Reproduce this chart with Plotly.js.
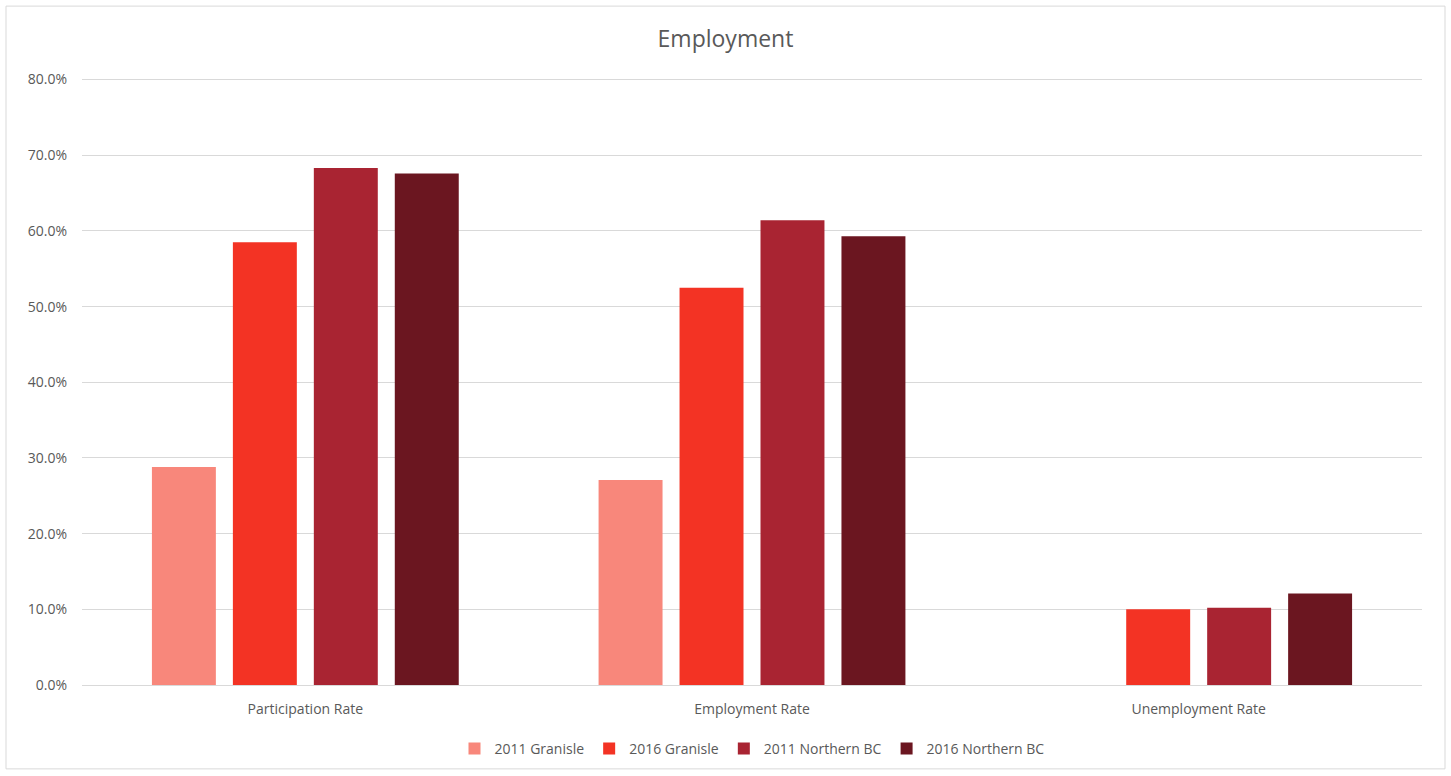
<!DOCTYPE html>
<html>
<head>
<meta charset="utf-8">
<script src="https://cdn.plot.ly/plotly-3.0.1.min.js"></script>
<style>
html,body{margin:0;padding:0;background:#fff;}
#chart{width:1451px;height:776px;}
</style>
</head>
<body>
<div id="chart"></div>
<script>
const categories = ["Participation Rate", "Employment Rate", "Unemployment Rate"];
const seriesNames = ["2011 Granisle", "2016 Granisle", "2011 Northern BC", "2016 Northern BC"];
const granisle2011 = [0.288, 0.271, null];
const granisle2016 = [0.585, 0.525, 0.100];
const northernBC2011 = [0.683, 0.614, 0.102];
const northernBC2016 = [0.676, 0.593, 0.121];
const colors = ["#F8877B", "#F33324", "#A92432", "#6B1620"];
const tickVals = [0, 0.1, 0.2, 0.3, 0.4, 0.5, 0.6, 0.7, 0.8];

const seriesValues = [granisle2011, granisle2016, northernBC2011, northernBC2016];
const traces = seriesValues.map((vals, i) => ({
  type: "bar",
  name: seriesNames[i],
  x: categories,
  y: vals,
  marker: {color: colors[i], line: {width: 0}},
  hoverinfo: "x+y+name"
}));

const fontFam = "'Open Sans', 'Liberation Sans', sans-serif";
const layout = {
  width: 1451,
  height: 776,
  margin: {l: 82, r: 29, t: 72, b: 90},
  paper_bgcolor: "#ffffff",
  plot_bgcolor: "rgba(0,0,0,0)",
  font: {family: fontFam, color: "#595959", size: 14},
  title: {text: "Employment", x: 0.5, xanchor: "center", y: 0.95, yanchor: "middle",
          font: {family: fontFam, size: 23, color: "#595959"}},
  barmode: "group",
  bargap: 0.275,
  bargroupgap: 0.21,
  xaxis: {
    type: "category",
    showgrid: false,
    showline: false,
    ticks: "",
    ticklabelstandoff: 14,
    tickfont: {size: 14, color: "#595959"},
    zeroline: false,
    automargin: false
  },
  yaxis: {
    range: [0, 0.81],
    tickvals: tickVals,
    tickformat: ".1%",
    showgrid: true,
    gridcolor: "#d9d9d9",
    gridwidth: 1,
    zeroline: true,
    zerolinecolor: "#d9d9d9",
    zerolinewidth: 1,
    showline: false,
    ticks: "",
    ticklen: 0,
    ticklabelstandoff: 14,
    tickfont: {size: 14, color: "#595959"},
    automargin: false
  },
  legend: {
    orientation: "h",
    x: 0.5, xanchor: "center",
    y: -0.1026, yanchor: "middle",
    bgcolor: "rgba(0,0,0,0)",
    font: {size: 14, color: "#595959"},
    itemwidth: 30,
    traceorder: "normal"
  },
  shapes: [{
    type: "rect", xref: "paper", yref: "paper",
    x0: (6 - 82) / 1340, x1: (1445 - 82) / 1340,
    y0: (686 - 770) / 614, y1: (686 - 6) / 614,
    line: {color: "#d9d9d9", width: 1}, fillcolor: "rgba(0,0,0,0)", layer: "below"
  }],
  showlegend: true
};

Plotly.newPlot("chart", traces, layout, {displayModeBar: false, staticPlot: true});
</script>
</body>
</html>
